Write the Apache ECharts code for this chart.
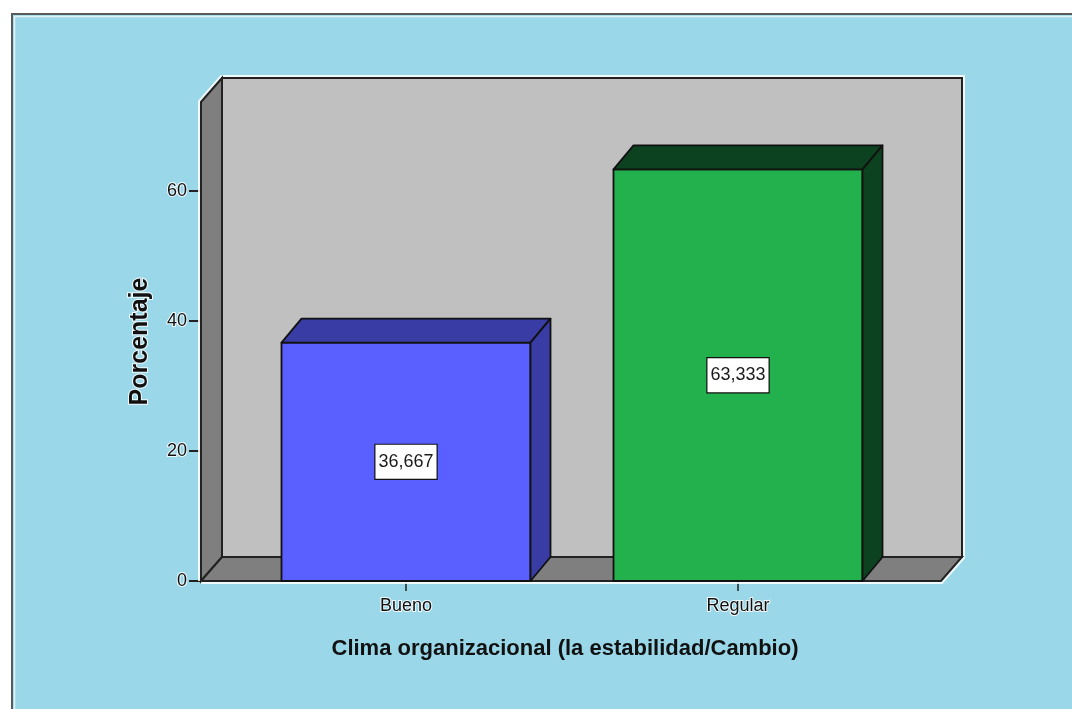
<!DOCTYPE html>
<html>
<head>
<meta charset="utf-8">
<script src="https://cdn.jsdelivr.net/npm/echarts@6/dist/echarts.min.js"></script>
<style>html,body{margin:0;padding:0;background:#fff;}#c{width:1072px;height:709px;}</style>
</head>
<body>
<div id="c"></div>
<script>
const categories = ['Bueno', 'Regular'];
const percentages = [36.667, 63.333];
const yTickValues = [0, 20, 40, 60];
const yMax = 73.7;
const xTitle = 'Clima organizacional (la estabilidad/Cambio)';
const yTitle = 'Porcentaje';

const frontColors = ['#5a5fff', '#23b14d'];
const darkColors = ['#383ca4', '#0c4220'];
const DX = 20, DY = -24;
const FONT = 'Liberation Sans';

function fmt(v) { return v.toFixed(3).replace('.', ','); }

const chart = echarts.init(document.getElementById('c'));

function renderBox(params, api) {
  const cs = params.coordSys;
  const y0 = api.coord([0, 0])[1];
  const yTop = cs.y;
  const xl = cs.x - 39, xr = cs.x + cs.width + 37;
  const bx = 21, by = -24;
  const edge = { stroke: '#222', lineWidth: 2 };
  return {
    type: 'group',
    children: [
      { type: 'polyline', shape: { points: [[xl, y0], [xl, yTop], [xl + bx, yTop + by], [xr + bx, yTop + by], [xr + bx, y0 + by], [xr, y0], [xl, y0]] },
        style: { stroke: 'rgba(255,255,255,0.85)', lineWidth: 6, fill: null } },
      { type: 'polygon', shape: { points: [[xl + bx, yTop + by], [xr + bx, yTop + by], [xr + bx, y0 + by], [xl + bx, y0 + by]] },
        style: Object.assign({ fill: '#c0c0c0' }, edge) },
      { type: 'polygon', shape: { points: [[xl, yTop], [xl + bx, yTop + by], [xl + bx, y0 + by], [xl, y0]] },
        style: Object.assign({ fill: '#7f7f7f' }, edge) },
      { type: 'polygon', shape: { points: [[xl, y0], [xl + bx, y0 + by], [xr + bx, y0 + by], [xr, y0]] },
        style: Object.assign({ fill: '#7f7f7f' }, edge) }
    ]
  };
}

function renderBar(params, api) {
  const idx = api.value(0);
  const val = api.value(1);
  const base = api.coord([idx, 0]);
  const top = api.coord([idx, val]);
  const w = api.size([1, 0])[0] * 0.75;
  const xl = base[0] - w / 2, xr = base[0] + w / 2;
  const y0 = base[1], yv = top[1];
  const i = params.dataIndex;
  const edge = { stroke: '#111', lineWidth: 1.8, lineJoin: 'round' };
  return {
    type: 'group',
    children: [
      { type: 'polygon', shape: { points: [[xl, yv], [xr, yv], [xr, y0], [xl, y0]] },
        style: Object.assign({ fill: frontColors[i] }, edge) },
      { type: 'polygon', shape: { points: [[xl, yv], [xl + DX, yv + DY], [xr + DX, yv + DY], [xr, yv]] },
        style: Object.assign({ fill: darkColors[i] }, edge) },
      { type: 'polygon', shape: { points: [[xr, yv], [xr + DX, yv + DY], [xr + DX, y0 + DY], [xr, y0]] },
        style: Object.assign({ fill: darkColors[i] }, edge) },
      { type: 'text', x: base[0], y: (y0 + yv) / 2,
        style: { text: fmt(val), x: 0, y: 0, align: 'center', verticalAlign: 'middle',
          font: '18px ' + FONT, fill: '#1a1a1a', backgroundColor: '#fff',
          borderColor: '#111', borderWidth: 1.2, padding: [8, 3, 8, 3] } }
    ]
  };
}

chart.setOption({
  backgroundColor: '#ffffff',
  animation: false,
  graphic: [
    { type: 'rect', z: -10, shape: { x: 12, y: 14, width: 1100, height: 720 },
      style: { fill: '#9ad8e9', stroke: '#5a5a5a', lineWidth: 2 } },
    { type: 'polyline', z: -9, shape: { points: [[14.5, 720], [14.5, 16.5], [1080, 16.5]] },
      style: { stroke: '#dff2f8', lineWidth: 1.5, fill: null } }
  ],
  grid: { left: 240, right: 168, top: 102, bottom: 128 },
  xAxis: {
    type: 'category',
    data: categories,
    name: xTitle,
    nameLocation: 'middle',
    nameGap: 57,
    nameTextStyle: { fontFamily: FONT, fontSize: 22, fontWeight: 'bold', color: '#111', padding: [0, 14, 0, 0] },
    axisLine: { show: false },
    axisTick: { show: true, alignWithLabel: true, length: 10, lineStyle: { color: '#222', width: 1.5 } },
    axisLabel: { margin: 16, fontFamily: FONT, fontSize: 18, color: '#111',
      textBorderColor: 'rgba(255,255,255,0.85)', textBorderWidth: 2 },
    splitLine: { show: false }
  },
  yAxis: {
    type: 'value',
    min: 0,
    max: yMax,
    interval: 20,
    offset: 39,
    name: yTitle,
    nameLocation: 'middle',
    nameGap: 48,
    nameTextStyle: { fontFamily: FONT, fontSize: 25, fontWeight: 'bold', color: '#111',
      textBorderColor: 'rgba(255,255,255,0.85)', textBorderWidth: 2 },
    axisLine: { show: true, lineStyle: { color: '#222', width: 2 } },
    axisTick: { show: true, length: 12, customValues: yTickValues, lineStyle: { color: '#222', width: 2 } },
    axisLabel: { margin: 14, customValues: yTickValues, fontFamily: FONT, fontSize: 18, color: '#111',
      textBorderColor: 'rgba(255,255,255,0.85)', textBorderWidth: 2 },
    splitLine: { show: false }
  },
  series: [
    { type: 'custom', renderItem: renderBox, data: [[0, 0]], silent: true, clip: false, z: 1 },
    { type: 'custom', renderItem: renderBar, clip: false, z: 2,
      data: categories.map((c, i) => [i, percentages[i]]) }
  ]
});
</script>
</body>
</html>
